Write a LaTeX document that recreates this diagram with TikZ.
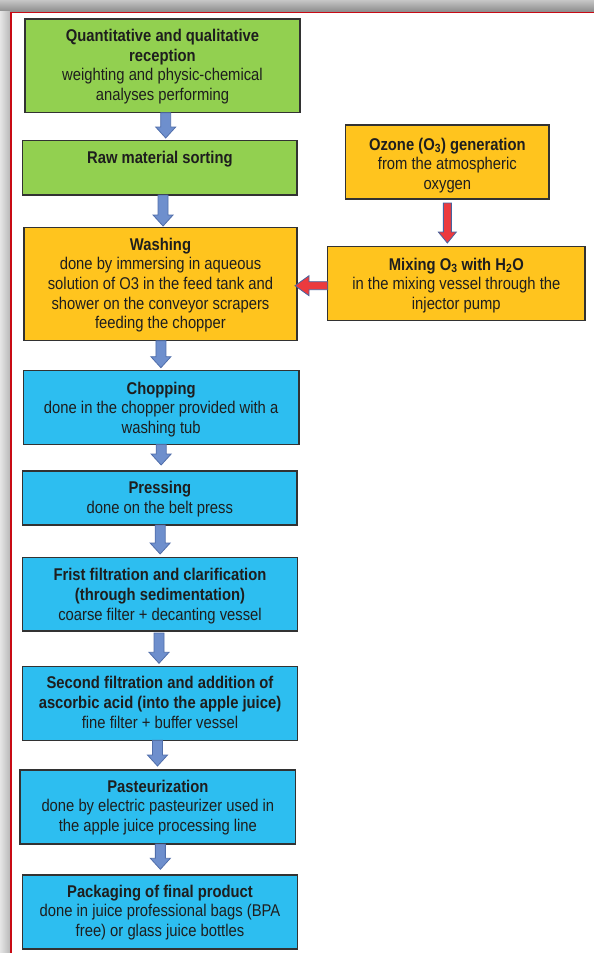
\documentclass[tikz,border=0pt]{standalone}
\usepackage{fontspec}
\setmainfont{Liberation Sans}[FakeStretch=0.87]
\usetikzlibrary{calc}
\definecolor{boxgreen}{RGB}{146,208,80}
\definecolor{boxorange}{RGB}{255,196,30}
\definecolor{boxblue}{RGB}{45,190,240}
\definecolor{boxedge}{RGB}{50,50,50}
\definecolor{txtcol}{RGB}{30,30,30}
\definecolor{arrfill}{RGB}{110,143,205}
\definecolor{arredge}{RGB}{80,110,170}
\definecolor{redfill}{RGB}{236,58,62}
\definecolor{redline}{RGB}{70,100,160}
\definecolor{framered}{RGB}{200,10,20}
\tikzset{
  box/.style={draw=boxedge, line width=1.2pt, rectangle, inner sep=0pt, outer sep=0pt},
  txt/.style={anchor=north, inner sep=0pt, align=center, text=txtcol,
    font=\fontsize{17}{19.6}\selectfont},
  barrow/.style={draw=arredge, fill=arrfill, line width=0.8pt, line join=miter,
    to path={let \p1=(\tikztostart), \p2=(\tikztotarget) in
      (\x1-5pt,\y1) -- (\x1-5pt,\y2+11pt) -- (\x1-10pt,\y2+11pt) -- (\x1,\y2)
      -- (\x1+10pt,\y2+11pt) -- (\x1+5pt,\y2+11pt) -- (\x1+5pt,\y1) -- cycle}},
  rvarrow/.style={draw=redline, fill=redfill, line width=0.8pt, line join=miter,
    to path={let \p1=(\tikztostart), \p2=(\tikztotarget) in
      (\x1-4pt,\y1) -- (\x1-4pt,\y2+11pt) -- (\x1-9pt,\y2+11pt) -- (\x1,\y2)
      -- (\x1+9pt,\y2+11pt) -- (\x1+4pt,\y2+11pt) -- (\x1+4pt,\y1) -- cycle}},
  rharrow/.style={draw=redline, fill=redfill, line width=0.8pt, line join=miter,
    to path={let \p1=(\tikztostart), \p2=(\tikztotarget) in
      (\x1,\y1+4pt) -- (\x2+14pt,\y1+4pt) -- (\x2+14pt,\y1+10pt) -- (\x2,\y1)
      -- (\x2+14pt,\y1-10pt) -- (\x2+14pt,\y1-4pt) -- (\x1,\y1-4pt) -- cycle}}
}
\begin{document}
\begin{tikzpicture}[x=1pt,y=-1pt]
\useasboundingbox (0,0) rectangle (594,953);
\fill[white] (0,0) rectangle (594,953);
% shadow bands and frame
\shade[top color=gray!45, bottom color=gray!90] (0,0) rectangle (594,11.5);
\shade[left color=gray!20, right color=gray!55] (0,11.5) rectangle (10,953);
\draw[framered, line width=1.8pt] (594,12.5) -- (11,12.5) -- (11,953);

% boxes
\node[box, fill=boxgreen, minimum width=275, minimum height=93.7] (n1) at (162.5,65.85) {};
\node[box, fill=boxgreen, minimum width=274.3, minimum height=54.3] (n2) at (159.85,167.85) {};
\node[box, fill=boxorange, minimum width=273, minimum height=113] (wash) at (160.5,284.2) {};
\node[box, fill=boxorange, minimum width=203.3, minimum height=74] (oz) at (447.35,162) {};
\node[box, fill=boxorange, minimum width=257.3, minimum height=74] (mix) at (456.35,283.7) {};
\node[box, fill=boxblue, minimum width=275.7, minimum height=73.6] (chop) at (161.15,407.5) {};
\node[box, fill=boxblue, minimum width=274.3, minimum height=54] (press) at (159.85,498) {};
\node[box, fill=boxblue, minimum width=275.4, minimum height=73.3] (frist) at (160,594.35) {};
\node[box, fill=boxblue, minimum width=275.4, minimum height=73.6] (second) at (160,703.5) {};
\node[box, fill=boxblue, minimum width=275.7, minimum height=74] (past) at (157.85,807) {};
\node[box, fill=boxblue, minimum width=275.4, minimum height=74] (pack) at (160,912) {};

% texts
\node[txt] (t1) at ([yshift=-10pt]n1.north) {\textbf{Quantitative and qualitative}\\\textbf{reception}\\weighting and physic-chemical\\analyses performing};
\node[txt] (t2) at ([yshift=-10.3pt]n2.north) {\textbf{Raw material sorting}};
\node[txt] (t3) at ([yshift=-10pt]wash.north) {\textbf{Washing}\\done by immersing in aqueous\\solution of O3 in the feed tank and\\shower on the conveyor scrapers\\feeding the chopper};
\node[txt] (t4) at ([yshift=-12.6pt]oz.north) {\textbf{Ozone (O\textsubscript{3}) generation}\\from the atmospheric\\oxygen};
\node[txt] (t5) at ([yshift=-11pt]mix.north) {\textbf{Mixing O\textsubscript{3} with H\textsubscript{2}O}\\in the mixing vessel through the\\injector pump};
\node[txt] (t6) at ([yshift=-10.8pt]chop.north) {\textbf{Chopping}\\done in the chopper provided with a\\washing tub};
\node[txt] (t7) at ([yshift=-10.2pt]press.north) {\textbf{Pressing}\\done on the belt press};
\node[txt] (t8) at ([yshift=-10.6pt]frist.north) {\textbf{Frist filtration and clarification}\\\textbf{(through sedimentation)}\\coarse filter + decanting vessel};
\node[txt] (t9) at ([yshift=-9.6pt]second.north) {\textbf{Second filtration and addition of}\\\textbf{ascorbic acid (into the apple juice)}\\fine filter + buffer vessel};
\node[txt] (t10) at ([yshift=-9.6pt]past.north) {\textbf{Pasteurization}\\done by electric pasteurizer used in\\the apple juice processing line};
\node[txt] (t11) at ([yshift=-9.6pt]pack.north) {\textbf{Packaging of final product}\\done in juice professional bags (BPA\\free) or glass juice bottles};

% blue connectors
\draw[barrow] ([xshift=3.2pt]n1.south) to ([yshift=2.7pt]n2.north);
\draw[barrow] ([xshift=3.2pt]n2.south) to ([yshift=1.7pt]wash.north);
\draw[barrow] ([xshift=0.4pt]wash.south) to ([yshift=3pt]chop.north);
\draw[barrow] ([xshift=0pt]chop.south) to ([yshift=6pt]press.north);
\draw[barrow] ([xshift=0.3pt]press.south) to ([yshift=3.7pt]frist.north);
\draw[barrow] ([xshift=-1pt,yshift=-2pt]frist.south) to ([yshift=3.4pt]second.north);
\draw[barrow] ([xshift=-2.5pt]second.south) to ([yshift=4pt]past.north);
\draw[barrow] ([xshift=2.5pt]past.south) to ([yshift=5.7pt]pack.north);

% red connectors
\draw[rvarrow] ([yshift=-4pt]oz.south) to ([yshift=3.7pt]mix.north);
\draw[rharrow] ([yshift=-2pt]mix.west) to ([xshift=-2pt]wash.east);
\end{tikzpicture}
\end{document}
